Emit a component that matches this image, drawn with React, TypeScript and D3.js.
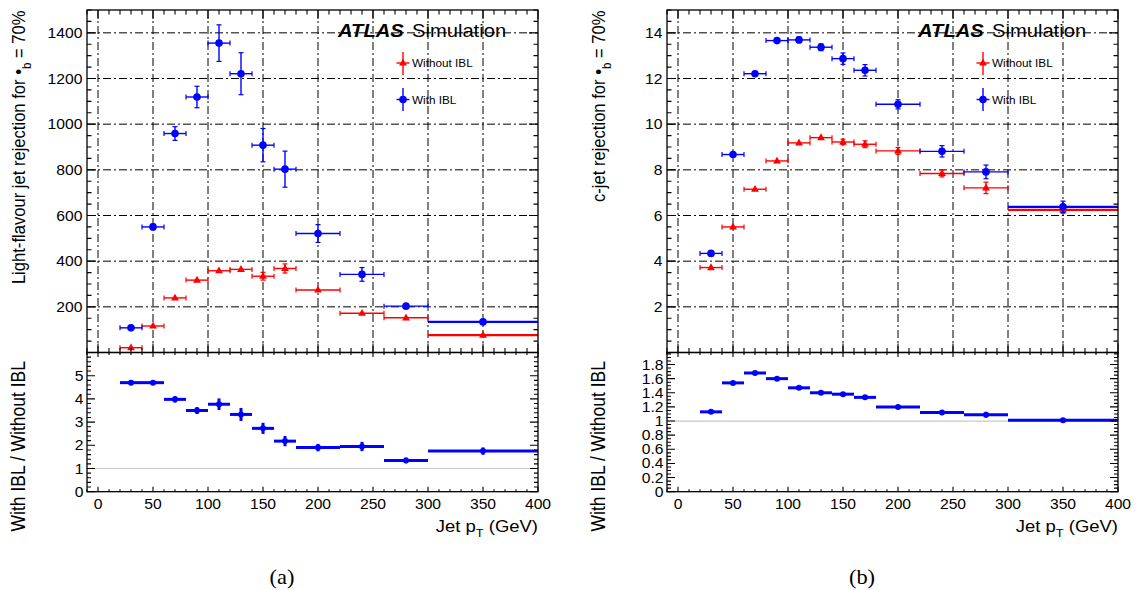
import React from 'react';
import * as d3 from 'd3';

// ---------- data ----------
const binLow = [20, 40, 60, 80, 100, 120, 140, 160, 180, 220, 260, 300];
const binHigh = [40, 60, 80, 100, 120, 140, 160, 180, 220, 260, 300, 400];
const binCenter = [30, 50, 70, 90, 110, 130, 150, 170, 200, 240, 280, 350];

const lightWith = [108, 550, 959, 1119, 1355, 1221, 908, 803, 521, 342, 203, 134];
const lightWithErr = [8, 12, 30, 47, 80, 92, 73, 79, 39, 30, 10, 8];
const lightWithout = [21, 116, 239, 317, 358, 364, 334, 368, 274, 172, 152, 76];
const lightWithoutErr = [5, 8, 8, 8, 8, 8, 17, 20, 8, 6, 6, 4];
const lightRatio = [4.7, 4.7, 3.98, 3.5, 3.77, 3.33, 2.73, 2.18, 1.9, 1.95, 1.35, 1.75];
const lightRatioErr = [0.08, 0.08, 0.14, 0.15, 0.25, 0.28, 0.24, 0.22, 0.16, 0.2, 0.12, 0.16];

const cWith = [4.34, 8.67, 12.21, 13.66, 13.69, 13.37, 12.87, 12.36, 10.87, 8.81, 7.91, 6.38];
const cWithErr = [0.05, 0.07, 0.08, 0.1, 0.12, 0.15, 0.25, 0.25, 0.2, 0.25, 0.3, 0.25];
const cWithout = [3.72, 5.5, 7.15, 8.39, 9.18, 9.41, 9.22, 9.12, 8.83, 7.84, 7.21, 6.25];
const cWithoutErr = [0.05, 0.06, 0.07, 0.07, 0.08, 0.1, 0.12, 0.15, 0.15, 0.15, 0.25, 0.15];
const cRatio = [1.13, 1.54, 1.68, 1.6, 1.47, 1.4, 1.38, 1.335, 1.2, 1.12, 1.09, 1.01];
const cRatioErr = [0.015, 0.015, 0.02, 0.02, 0.02, 0.02, 0.02, 0.03, 0.02, 0.03, 0.04, 0.03];

const xLabels = [0, 50, 100, 150, 200, 250, 300, 350, 400];
const lightTopLabels = [200, 400, 600, 800, 1000, 1200, 1400];
const cTopLabels = [2, 4, 6, 8, 10, 12, 14];
const lightRatioLabels = [0, 1, 2, 3, 4, 5];
const cRatioLabels = [0, 0.2, 0.4, 0.6, 0.8, 1, 1.2, 1.4, 1.6, 1.8];

// ---------- layout ----------
const W = 1137;
const H = 590;
const X0 = 87;
const X1 = 538;
const YT0 = 10;
const YT1 = 352.5;
const YB1 = 491.7;
const SX = 1.12;
const FONT = "'Liberation Sans', Arial, Helvetica, sans-serif";
const BLUE = '#0000ff';
const RED = '#ff0000';

type TxtProps = {
  x: number; y: number; size: number; anchor?: string; rot?: boolean;
  weight?: string; fstyle?: string; family?: string; children: React.ReactNode;
};
function Txt({ x, y, size, anchor = 'start', rot = false, weight, fstyle, family, children }: TxtProps) {
  return (
    <g transform={`translate(${x},${y}) scale(${SX},1)${rot ? ' rotate(-90)' : ''}`}>
      <text x={0} y={0} fontSize={size} textAnchor={anchor} fontFamily={family || FONT}
        fontWeight={weight} fontStyle={fstyle} fill="#000">{children}</text>
    </g>
  );
}

function fmt(v: number) {
  return String(Math.round(v * 100) / 100);
}

type PanelProps = {
  dx: number;
  topMax: number; topMajorStep: number; topMinorStep: number; topLabels: number[];
  withV: number[]; withE: number[]; withoutV: number[]; withoutE: number[];
  ratioMax: number; ratioMajorStep: number; ratioMinorStep: number; ratioLabels: number[];
  ratioV: number[]; ratioE: number[];
  yTitle: string; panelLabel: string;
};

function Panel(p: PanelProps) {
  const { dx } = p;
  const x0 = X0 + dx;
  const x1 = X1 + dx;
  const x = d3.scaleLinear().domain([-10, 400]).range([x0, x1]);
  const yT = d3.scaleLinear().domain([0, p.topMax]).range([YT1, YT0]);
  const yB = d3.scaleLinear().domain([0, p.ratioMax]).range([YB1, YT1]);

  const eps = 1e-6;
  const xMinor = d3.range(-10, 400 + eps, 10);
  const xMajor = d3.range(0, 400 + eps, 50);
  const topMinor = d3.range(0, p.topMax + eps, p.topMinorStep);
  const topMajor = d3.range(0, p.topMax + eps, p.topMajorStep);
  const rMinor = d3.range(0, p.ratioMax + eps, p.ratioMinorStep);
  const rMajor = d3.range(0, p.ratioMax + eps, p.ratioMajorStep);

  // tick paths
  let ticks = '';
  const isMaj = (v: number, step: number) => Math.abs(v / step - Math.round(v / step)) < 1e-4;
  // top panel x ticks
  xMinor.forEach(v => {
    const L = isMaj(v, 50) ? 9 : 4.5;
    const px = x(v);
    ticks += `M${px},${YT1}v${-L}M${px},${YT0}v${L}`;
  });
  // top panel y ticks
  topMinor.forEach(v => {
    const L = isMaj(v, p.topMajorStep) ? 9 : 4.5;
    const py = yT(v);
    ticks += `M${x0},${py}h${L}M${x1},${py}h${-L}`;
  });
  // bottom panel x ticks
  xMinor.forEach(v => {
    const maj = isMaj(v, 50);
    const px = x(v);
    ticks += `M${px},${YB1}v${maj ? -5 : -2.5}M${px},${YT1}v${maj ? 4.5 : 2.5}`;
  });
  // bottom panel y ticks
  rMinor.forEach(v => {
    const L = isMaj(v, p.ratioMajorStep) ? 8 : 4;
    const py = yB(v);
    ticks += `M${x0},${py}h${L}M${x1},${py}h${-L}`;
  });

  const cap = 2.5;

  const errMarks = (vals: number[], errs: number[], color: string, kind: 'circle' | 'tri') =>
    vals.map((v, i) => {
      const cx = x(binCenter[i]);
      const cy = yT(v);
      const xl = x(binLow[i]);
      const xh = x(binHigh[i]);
      const yl = yT(v - errs[i]);
      const yh = yT(v + errs[i]);
      const last = i === vals.length - 1;
      return (
        <g key={i} stroke={color} fill={color}>
          <line x1={xl} x2={xh} y1={cy} y2={cy} strokeWidth={last ? 2.2 : 1.4} />
          {!last && <line x1={xl} x2={xl} y1={cy - cap} y2={cy + cap} strokeWidth={1.2} />}
          {!last && <line x1={xh} x2={xh} y1={cy - cap} y2={cy + cap} strokeWidth={1.2} />}
          <line x1={cx} x2={cx} y1={yl} y2={yh} strokeWidth={1.4} />
          {yl - yh > 5 && <line x1={cx - cap} x2={cx + cap} y1={yl} y2={yl} strokeWidth={1.2} />}
          {yl - yh > 5 && <line x1={cx - cap} x2={cx + cap} y1={yh} y2={yh} strokeWidth={1.2} />}
          {kind === 'circle'
            ? <circle cx={cx} cy={cy} r={3.8} stroke="none" />
            : <path d={`M${cx},${cy - 4.3}L${cx + 3.9},${cy + 2.6}L${cx - 3.9},${cy + 2.6}Z`} stroke="none" />}
        </g>
      );
    });

  const lx = 403 + dx;

  return (
    <g>
      {/* grid */}
      <g stroke="#000" strokeWidth={1} strokeDasharray="8,3,2,3" fill="none">
        {xMajor.filter(v => v < 400).map(v => (
          <line key={'gx' + v} x1={x(v)} x2={x(v)} y1={YT0} y2={YT1} />
        ))}
        {topMajor.filter(v => v > 0).map(v => (
          <line key={'gy' + v} x1={x0} x2={x1} y1={yT(v)} y2={yT(v)} />
        ))}
      </g>

      {/* ratio = 1 line */}
      <line x1={x0} x2={x1} y1={yB(1)} y2={yB(1)} stroke="#c8c8c8" strokeWidth={1.2} />

      {/* ATLAS label */}
      <g>
        <Txt x={338 + dx} y={37} size={18} weight="bold" fstyle="italic">ATLAS</Txt>
        <Txt x={412 + dx} y={37} size={18}>Simulation</Txt>
      </g>

      {/* legend */}
      <g stroke={RED} fill={RED}>
        <line x1={lx} x2={lx} y1={52} y2={75} strokeWidth={1.4} />
        <line x1={lx - 6.5} x2={lx + 6.5} y1={63} y2={63} strokeWidth={1.4} />
        <path d={`M${lx},${63 - 4.3}L${lx + 3.9},${63 + 2.6}L${lx - 3.9},${63 + 2.6}Z`} stroke="none" />
      </g>
      <g stroke={BLUE} fill={BLUE}>
        <line x1={lx} x2={lx} y1={88} y2={111} strokeWidth={1.4} />
        <line x1={lx - 6.5} x2={lx + 6.5} y1={99.5} y2={99.5} strokeWidth={1.4} />
        <circle cx={lx} cy={99.5} r={3.8} stroke="none" />
      </g>
      <Txt x={412 + dx} y={67} size={10.5}>Without IBL</Txt>
      <Txt x={412 + dx} y={103.5} size={10.5}>With IBL</Txt>

      {/* data */}
      {errMarks(p.withoutV, p.withoutE, RED, 'tri')}
      {errMarks(p.withV, p.withE, BLUE, 'circle')}

      {/* ratio */}
      {p.ratioV.map((v, i) => {
        const cx = x(binCenter[i]);
        const cy = yB(v);
        return (
          <g key={'r' + i} stroke={BLUE} fill={BLUE}>
            <line x1={x(binLow[i])} x2={x(binHigh[i])} y1={cy} y2={cy} strokeWidth={3} />
            <line x1={cx} x2={cx} y1={yB(v - p.ratioE[i])} y2={yB(v + p.ratioE[i])} strokeWidth={3} />
            <circle cx={cx} cy={cy} r={3} stroke="none" />
          </g>
        );
      })}

      {/* frames and ticks */}
      <rect x={x0} y={YT0} width={x1 - x0} height={YT1 - YT0} fill="none" stroke="#000" strokeWidth={1.3} />
      <rect x={x0} y={YT1} width={x1 - x0} height={YB1 - YT1} fill="none" stroke="#000" strokeWidth={1.3} />
      <path d={ticks} stroke="#000" strokeWidth={1.1} fill="none" />

      {/* tick labels */}
      {p.topLabels.map(v => (
        <Txt key={'tl' + v} x={x0 - 4.5} y={yT(v) + 5} size={14} anchor="end">{fmt(v)}</Txt>
      ))}
      {p.ratioLabels.map(v => (
        <Txt key={'rl' + v} x={x0 - 3.5} y={yB(v) + 5} size={14} anchor="end">{fmt(v)}</Txt>
      ))}
      {xLabels.map(v => (
        <Txt key={'xl' + v} x={x(v)} y={508.5} size={14} anchor="middle">{fmt(v)}</Txt>
      ))}

      {/* axis titles */}
      <Txt x={25 + dx} y={YT0 + 0.5} size={16.6} anchor="end" rot>
        {p.yTitle} {'\u2022'}<tspan fontSize={11.5} dy={5}>b</tspan><tspan dy={-5}> = 70%</tspan>
      </Txt>
      <Txt x={25 + dx} y={361} size={17.5} anchor="end" rot>With IBL / Without IBL</Txt>
      <Txt x={x1} y={532} size={16.5} anchor="end">
        Jet p<tspan fontSize={11.5} dy={5}>T</tspan><tspan dy={-5}> (GeV)</tspan>
      </Txt>

      {/* panel label */}
      <Txt x={282 + dx} y={584} size={20} anchor="middle" family="'Liberation Serif', 'Times New Roman', serif">{p.panelLabel}</Txt>
    </g>
  );
}

export default function App() {
  return (
    <svg width={W} height={H} viewBox={`0 0 ${W} ${H}`}
      style={{ position: 'absolute', left: 0, top: 0, background: '#fff' }}>
      <rect x={0} y={0} width={W} height={H} fill="#fff" />
      <Panel dx={0}
        topMax={1500} topMajorStep={200} topMinorStep={50} topLabels={lightTopLabels}
        withV={lightWith} withE={lightWithErr} withoutV={lightWithout} withoutE={lightWithoutErr}
        ratioMax={6} ratioMajorStep={1} ratioMinorStep={0.2} ratioLabels={lightRatioLabels}
        ratioV={lightRatio} ratioE={lightRatioErr}
        yTitle="Light-flavour jet rejection for" panelLabel="(a)" />
      <Panel dx={580}
        topMax={15} topMajorStep={2} topMinorStep={0.5} topLabels={cTopLabels}
        withV={cWith} withE={cWithErr} withoutV={cWithout} withoutE={cWithoutErr}
        ratioMax={1.97} ratioMajorStep={0.2} ratioMinorStep={0.05} ratioLabels={cRatioLabels}
        ratioV={cRatio} ratioE={cRatioErr}
        yTitle="c-jet rejection for" panelLabel="(b)" />
    </svg>
  );
}
